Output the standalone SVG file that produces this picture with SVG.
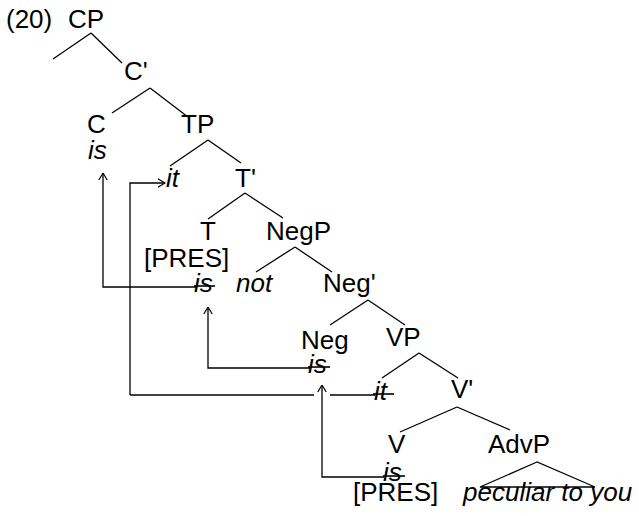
<svg xmlns="http://www.w3.org/2000/svg" width="639" height="516" viewBox="0 0 639 516">
<style>
text{font-family:"Liberation Sans",Arial,sans-serif;font-size:26px;fill:#000}
.i{font-style:italic}
.t line,.t path{stroke:#000;stroke-width:1.3;fill:none}
.c line,.c polyline{stroke:#000;stroke-width:1.3;fill:none}
.s{stroke:#000;stroke-width:1.6}
</style>
<defs>
<marker id="ah" viewBox="0 0 8 10" refX="7.5" refY="5" markerWidth="8" markerHeight="10" markerUnits="userSpaceOnUse" orient="auto">
<path d="M0.5,0.8 L7.5,5 L0.5,9.2" fill="none" stroke="#000" stroke-width="1.2"/>
</marker>
</defs>
<text x="6" y="28">(20)</text>
<g id="tree" class="t">
<line x1="91" y1="33" x2="53" y2="59"/>
<line x1="91" y1="33" x2="122" y2="63"/>
<line x1="150" y1="88" x2="112" y2="113"/>
<line x1="150" y1="88" x2="188" y2="117"/>
<line x1="208" y1="140" x2="170" y2="166"/>
<line x1="208" y1="140" x2="241" y2="163"/>
<line x1="245" y1="193" x2="208" y2="219"/>
<line x1="245" y1="193" x2="283" y2="218"/>
<line x1="295" y1="247" x2="256" y2="272"/>
<line x1="295" y1="247" x2="332" y2="272"/>
<line x1="368" y1="300" x2="330" y2="325"/>
<line x1="368" y1="300" x2="405" y2="325"/>
<line x1="419" y1="353" x2="382" y2="378"/>
<line x1="419" y1="353" x2="458" y2="378"/>
<line x1="457" y1="407" x2="400" y2="432"/>
<line x1="457" y1="407" x2="510" y2="430"/>
<path d="M537,462 L480,487 L595,487 Z"/>
</g>
<g id="n-CP"><text x="68" y="28">CP</text></g>
<g id="n-Cbar"><text x="124" y="80">C'</text></g>
<g id="n-C"><text x="87" y="133">C</text><text class="i" x="88" y="159">is</text></g>
<g id="n-TP"><text x="181" y="133">TP</text></g>
<g id="n-it"><text class="i" x="166" y="187">it</text></g>
<g id="n-Tbar"><text x="235" y="187">T'</text></g>
<g id="n-T"><text x="200" y="240">T</text><text x="144" y="267">[PRES]</text></g>
<g id="n-is1"><text class="i" x="194" y="292">is</text><line class="s" x1="194" y1="286" x2="215" y2="286"/></g>
<g id="n-NegP"><text x="266" y="240">NegP</text></g>
<g id="n-not"><text class="i" x="236" y="292">not</text></g>
<g id="n-Negbar"><text x="323" y="292">Neg'</text></g>
<g id="n-Neg"><text x="301" y="349">Neg</text><text class="i" x="308" y="373">is</text><line class="s" x1="308" y1="367" x2="330" y2="367"/></g>
<g id="n-VP"><text x="386" y="346">VP</text></g>
<g id="n-it2"><text class="i" x="374" y="400">it</text><line class="s" x1="373" y1="394" x2="394" y2="394"/></g>
<g id="n-Vbar"><text x="451" y="398">V'</text></g>
<g id="n-V"><text x="388" y="453">V</text><text class="i" x="383" y="481">is</text><line class="s" x1="383" y1="476" x2="405" y2="476"/><text x="353" y="501">[PRES]</text></g>
<g id="n-AdvP"><text x="488" y="453">AdvP</text><text class="i" x="463" y="501">peculiar to you</text></g>
<g id="connectors" class="c">
<polyline points="196,287 103,287 103,173" marker-end="url(#ah)"/>
<polyline points="130,395 130,183 165,183" marker-end="url(#ah)"/>
<polyline points="310,368 208,368 208,307" marker-end="url(#ah)"/>
<polyline points="384,477 322,477 322,385" marker-end="url(#ah)"/>
<line x1="130" y1="395" x2="314" y2="395"/>
<line x1="330" y1="395" x2="375" y2="395"/>
</g>
</svg>
